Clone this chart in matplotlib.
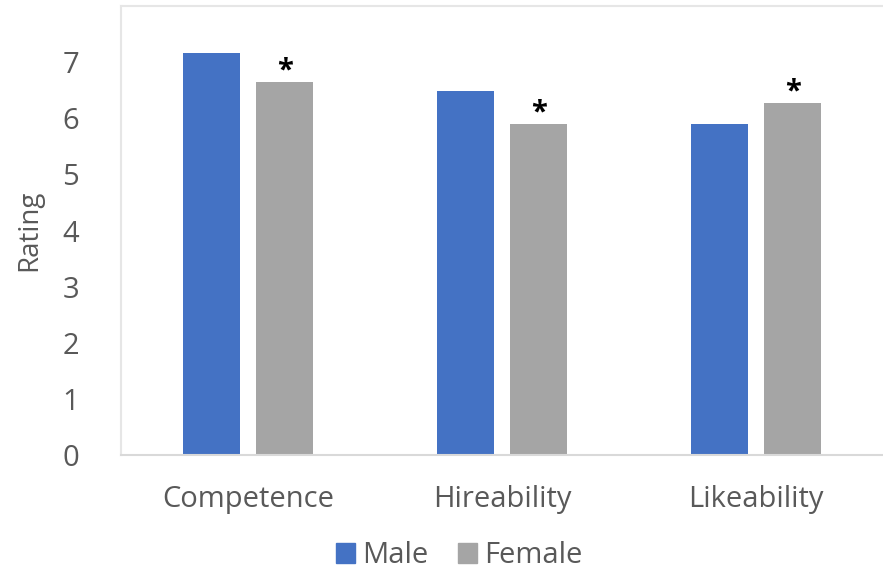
import numpy as np
import matplotlib.pyplot as plt
from matplotlib.patches import Patch

plt.rcParams['font.family'] = ['Open Sans', 'DejaVu Sans']

categories = ['Competence', 'Hireability', 'Likeability']
male = [7.17, 6.49, 5.90]
female = [6.65, 5.90, 6.27]
significant = [True, True, True]

blue = '#4472c4'
grey = '#a5a5a5'
text_c = '#595959'

fig = plt.figure(figsize=(8.83, 5.70), dpi=100)
ax = fig.add_axes([0.137, 0.202, 0.863, 0.787])

x = np.arange(len(categories))
w = 0.223
off = 0.144
ax.bar(x - off, male, w, color=blue, label='Male')
ax.bar(x + off, female, w, color=grey, label='Female')

# significance markers above the female bars
for xi, v, s in zip(x, female, significant):
    if s:
        ax.text(xi + off, v + 0.2, '*', ha='center', va='center',
                fontsize=21, fontweight='bold', color='black')

ax.set_xlim(-0.5, 2.5)
ax.set_ylim(0, 8)
ax.set_yticks(range(8))
ax.set_xticks(x)
ax.set_xticklabels(categories)
ax.tick_params(length=0, labelsize=21, colors=text_c)
ax.tick_params(axis='y', pad=30)
ax.tick_params(axis='x', pad=22)
ax.set_ylabel('Rating', fontsize=20, color=text_c, labelpad=14)

for side in ['left', 'top']:
    ax.spines[side].set_color('#e6e6e6')
    ax.spines[side].set_linewidth(1.5)
ax.spines['bottom'].set_color('#d9d9d9')
ax.spines['bottom'].set_linewidth(1.5)
ax.spines['right'].set_visible(False)

handles = [Patch(color=blue), Patch(color=grey)]
fig.legend(handles, ['Male', 'Female'], loc='center', bbox_to_anchor=(0.52, 0.025),
           ncol=2, frameon=False, fontsize=21, labelcolor=text_c,
           handlelength=0.65, handleheight=0.65, handletextpad=0.25, columnspacing=1.0)

fig.savefig('out.png', dpi=100)
